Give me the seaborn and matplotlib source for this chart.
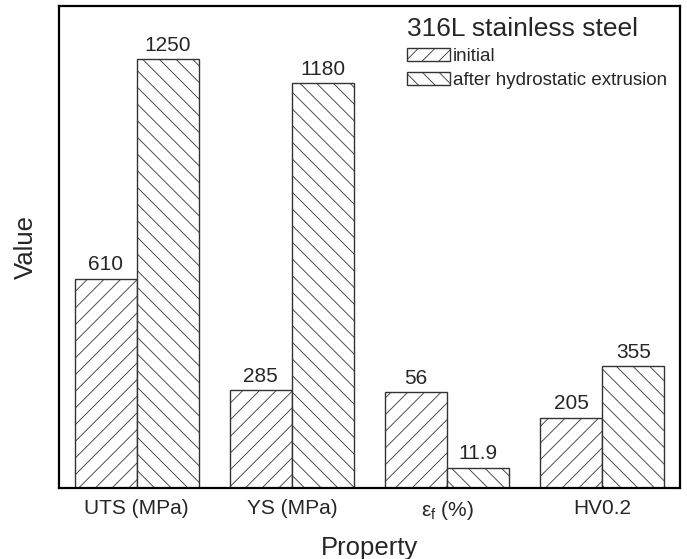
import matplotlib
matplotlib.use("Agg")
import matplotlib.pyplot as plt
import seaborn as sns
import pandas as pd
from matplotlib.patches import Patch

# ---- data ----
properties = ["UTS", "YS", "ef", "HV"]
tick_labels = ["UTS (MPa)", "YS (MPa)", "ε$_{\\mathregular{f}}$ (%)", "HV0.2"]
conditions = ["initial", "after hydrostatic extrusion"]
values_initial = [610, 285, 56, 205]
values_after = [1250, 1180, 11.9, 355]
plot_scale = [1, 1, 5, 1]   # εf is drawn x5 in the original chart
legend_title = "316L stainless steel"
hatches = ["//", "\\\\"]

rows = []
for cond, vals in zip(conditions, [values_initial, values_after]):
    for p, v, s in zip(properties, vals, plot_scale):
        rows.append({"Property": p, "Condition": cond, "Value": v * s, "Label": f"{v:g}"})
df = pd.DataFrame(rows)

sns.set_style("white")
plt.rcParams["font.family"] = ["Liberation Sans", "DejaVu Sans"]
plt.rcParams["mathtext.fontset"] = "custom"
plt.rcParams["mathtext.rm"] = "Liberation Sans"
plt.rcParams["hatch.linewidth"] = 0.6

fig = plt.figure(figsize=(6.87, 5.59), dpi=100)
ax = fig.add_axes([59 / 687, 71 / 559, 621 / 687, 482 / 559])

edge = "#333333"
sns.barplot(data=df, x="Property", y="Value", hue="Condition", order=properties,
            hue_order=conditions, palette=["white", "white"], edgecolor=edge,
            linewidth=1.0, legend=False, ax=ax, width=0.8)

for cont, h, cond in zip(ax.containers, hatches, conditions):
    for bar in cont:
        bar.set_hatch(h)
        bar.set_edgecolor(edge)
    labs = [df[(df.Condition == cond) & (df.Property == p)]["Label"].iloc[0] for p in properties]
    ax.bar_label(cont, labels=labs, padding=3, fontsize=15)

ax.set_xlim(-0.5, 3.5)
ax.set_ylim(0, 1404)
ax.set_yticks([])
ax.set_xticks(range(len(properties)))
ax.set_xticklabels(tick_labels, fontsize=15)
ax.tick_params(axis="x", length=0, pad=8)
ax.set_xlabel("Property", fontsize=18.5, labelpad=10)
ax.set_ylabel("Value", fontsize=18.5, labelpad=15)
for sp in ax.spines.values():
    sp.set_visible(True)
    sp.set_color("black")
    sp.set_linewidth(1.6)

handles = [Patch(facecolor="white", edgecolor=edge, hatch=h, linewidth=1.0) for h in hatches]
leg = ax.legend(handles, conditions, title=legend_title, loc="upper left",
                bbox_to_anchor=(0.56, 0.977), frameon=False, fontsize=13.5,
                title_fontsize=19, handlelength=2.3, handleheight=0.7,
                handletextpad=0.15, labelspacing=0.36, borderpad=0, borderaxespad=0)
leg._legend_box.align = "left"

fig.savefig("out.png", dpi=100)
